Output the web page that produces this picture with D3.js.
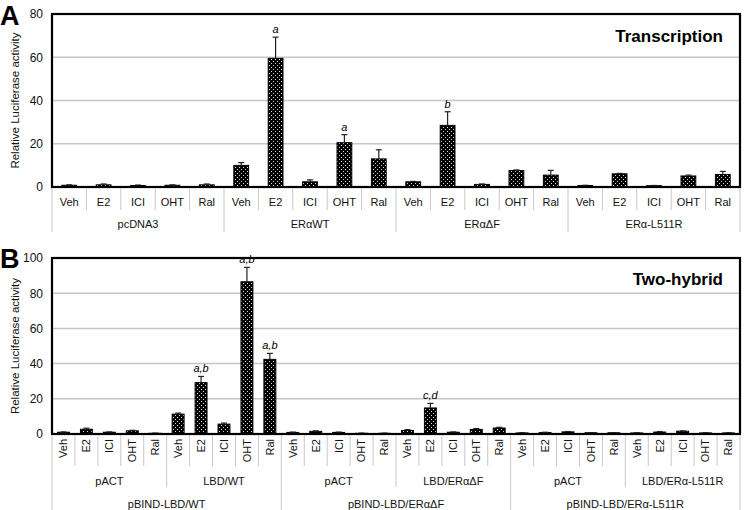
<!DOCTYPE html>
<html><head><meta charset="utf-8">
<script src="https://cdn.jsdelivr.net/npm/d3@7"></script>
<style>body{margin:0;background:#fff} svg{font-family:"Liberation Sans",Arial,sans-serif;display:block}</style>
</head><body><svg id="c" width="745" height="510"></svg>
<script>
// ---------- DATA ----------
const treatments = ["Veh","E2","ICI","OHT","Ral"];
// Panel A (Transcription)
const groupsA = ["pcDNA3","ERαWT","ERαΔF","ERα-L511R"];
const valuesA = [0.8,1.0,0.7,0.8,1.0, 10.0,59.5,2.4,20.5,13.0, 2.4,28.5,1.2,7.6,5.5, 0.7,6.1,0.6,5.1,5.8];
const errorsA = [0.2,0.4,0.2,0.2,0.4, 1.3,9.8,0.9,3.7,4.2, 0.2,6.3,0.2,0.3,2.2, 0.1,0.2,0.1,0.4,1.4];
const annotA  = ["","","","","", "","a","","a","", "","b","","","", "","","","",""];
const ticksA  = [0,20,40,60,80];
// Panel B (Two-hybrid)
const subgroupsB = ["pACT","LBD/WT","pACT","LBD/ERαΔF","pACT","LBD/ERα-L511R"];
const groupsB = ["pBIND-LBD/WT","pBIND-LBD/ERαΔF","pBIND-LBD/ERα-L511R"];
const valuesB = [1.0,2.7,1.0,1.8,0.4, 11.3,29.2,5.6,86.5,42.4, 0.9,1.5,0.9,0.4,0.4, 2.0,14.8,1.0,2.6,3.4, 0.6,0.8,1.2,0.7,0.7, 0.6,1.1,1.6,0.6,0.6];
const errorsB = [0.2,0.6,0.2,0.3,0.1, 0.6,3.5,0.6,8.2,3.4, 0.2,0.3,0.2,0.1,0.1, 0.5,2.6,0.2,0.5,0.4, 0.1,0.2,0.2,0.1,0.1, 0.1,0.3,0.2,0.1,0.1];
const annotB  = ["","","","","", "","a,b","","a,b","a,b", "","","","","", "","c,d","","","", "","","","","", "","","","",""];
const ticksB  = [0,20,40,60,80,100];

// ---------- DRAW ----------
const svg = d3.select("#c");
const defs = svg.append("defs");
const pat = defs.append("pattern").attr("id","dots").attr("patternUnits","userSpaceOnUse")
  .attr("width",4).attr("height",4);
pat.append("rect").attr("width",4).attr("height",4).attr("fill","#000");
pat.append("rect").attr("x",1).attr("y",1).attr("width",1).attr("height",1).attr("fill","#d8d8d8");
pat.append("rect").attr("x",3).attr("y",3).attr("width",1).attr("height",1).attr("fill","#d8d8d8");

function panel(cfg){
  const g = svg.append("g");
  const n = cfg.values.length;
  const x = d3.scaleBand().domain(d3.range(n)).range([cfg.left,cfg.right]).paddingInner(0).paddingOuter(0);
  const y = d3.scaleLinear().domain([0,cfg.ticks[cfg.ticks.length-1]]).range([cfg.zero,cfg.top]);
  const bw = x.bandwidth()*cfg.barFrac;
  const cx = i => x(i)+x.bandwidth()/2;

  // gridlines
  g.append("g").selectAll("line").data(cfg.ticks.slice(1,-1)).join("line")
    .attr("x1",cfg.left).attr("x2",cfg.right).attr("y1",d=>y(d)).attr("y2",d=>y(d))
    .attr("stroke","#c6c6c6").attr("stroke-width",1.5);

  // y axis labels
  const ax = g.append("g").attr("transform",`translate(${cfg.left},0)`)
    .call(d3.axisLeft(y).tickValues(cfg.ticks).tickSize(0).tickPadding(9));
  ax.select(".domain").remove();
  ax.selectAll("text").attr("font-size",12).attr("fill","#111").style("font-family","'Liberation Sans',Arial,sans-serif");

  // bars
  g.append("g").selectAll("rect").data(cfg.values).join("rect")
    .attr("x",(d,i)=>cx(i)-bw/2).attr("width",bw)
    .attr("y",d=>y(d)).attr("height",d=>cfg.zero-y(d))
    .attr("fill","url(#dots)").attr("stroke","#000").attr("stroke-width",1);

  // error bars
  const eb = g.append("g").attr("stroke","#222").attr("stroke-width",1.2);
  cfg.values.forEach((v,i)=>{
    const e = cfg.errors[i]; if(!e) return;
    eb.append("line").attr("x1",cx(i)).attr("x2",cx(i)).attr("y1",y(v)).attr("y2",y(v+e));
    eb.append("line").attr("x1",cx(i)-3).attr("x2",cx(i)+3).attr("y1",y(v+e)).attr("y2",y(v+e));
  });

  // annotations
  g.append("g").selectAll("text").data(cfg.annot).join("text")
    .attr("x",(d,i)=>cx(i)).attr("y",(d,i)=>y(cfg.values[i]+cfg.errors[i])-4)
    .attr("text-anchor","middle").attr("font-size",11).attr("font-style","italic").text(d=>d);

  // frame
  g.append("rect").attr("x",cfg.left).attr("y",cfg.top).attr("width",cfg.right-cfg.left)
    .attr("height",cfg.zero-cfg.top).attr("fill","none").attr("stroke","#000").attr("stroke-width",2.2);

  // separators below axis
  const sep = g.append("g").attr("stroke","#c8c8c8").attr("stroke-width",1);
  for(let k=0;k<=n;k++){
    const xx = k<n ? x(k) : cfg.right;
    let bottom = cfg.sepLevels[0];
    cfg.groupSizes.forEach((s,li)=>{ if(k% s===0) bottom = cfg.sepLevels[li+1]; });
    sep.append("line").attr("x1",xx).attr("x2",xx).attr("y1",cfg.zero+1).attr("y2",bottom);
  }

  // category tick labels
  const tl = g.append("g").attr("font-size",11).attr("fill","#111");
  cfg.values.forEach((v,i)=>{
    const lab = treatments[i%treatments.length];
    if(cfg.rotate){
      tl.append("text").attr("transform",`translate(${cx(i)},${cfg.tickY}) rotate(-90)`)
        .attr("dy","0.35em").attr("text-anchor","end").text(lab);
    } else {
      tl.append("text").attr("x",cx(i)).attr("y",cfg.tickY).attr("text-anchor","middle").text(lab);
    }
  });
  // group labels per level
  cfg.groupLabels.forEach((labs,li)=>{
    const size = cfg.groupSizes[li];
    labs.forEach((lab,j)=>{
      const x0 = x(j*size), x1 = (j+1)*size<n ? x((j+1)*size) : cfg.right;
      tl.append("text").attr("x",(x0+x1)/2).attr("y",cfg.groupY[li]).attr("text-anchor","middle").text(lab);
    });
  });

  // y label
  g.append("text").attr("transform",`translate(19,${(cfg.top+cfg.zero)/2}) rotate(-90)`)
    .attr("text-anchor","middle").attr("font-size",11.5).attr("fill","#111").text("Relative Luciferase activity");
  // title
  g.append("text").attr("x",723).attr("y",cfg.titleY).attr("text-anchor","end")
    .attr("font-size",17).attr("font-weight","bold").text(cfg.title);
  // panel letter
  g.append("text").attr("x",0).attr("y",cfg.letterY).attr("font-size",27).attr("font-weight","bold").text(cfg.letter);
}

panel({values:valuesA, errors:errorsA, annot:annotA, ticks:ticksA,
  left:52, right:740, top:14, zero:187, barFrac:0.43,
  sepLevels:[210,232], groupSizes:[5], groupLabels:[groupsA],
  tickY:206, groupY:[228], rotate:false,
  title:"Transcription", titleY:42, letter:"A", letterY:25});

panel({values:valuesB, errors:errorsB, annot:annotB, ticks:ticksB,
  left:52, right:740, top:258, zero:434, barFrac:0.52,
  sepLevels:[466,487,510], groupSizes:[5,10], groupLabels:[subgroupsB, groupsB],
  tickY:439, groupY:[485,508], rotate:true,
  title:"Two-hybrid", titleY:285, letter:"B", letterY:268});
</script></body></html>
